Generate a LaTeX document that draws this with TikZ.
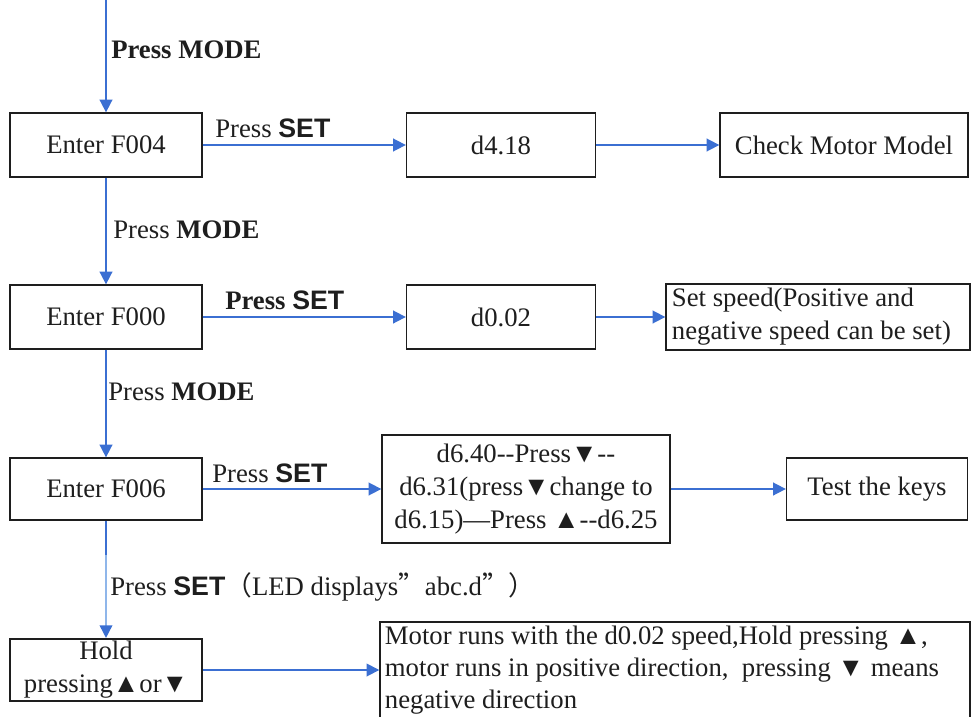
\documentclass[tikz,border=0pt]{standalone}
\usepackage{fontspec}
\setmainfont{Liberation Serif}
\newfontfamily\keyfont{Liberation Sans}
\newfontfamily\cjk{Noto Sans CJK SC}
\usetikzlibrary{arrows.meta,positioning}
\definecolor{flowBlue}{HTML}{3B6FD2}
\definecolor{flowPale}{HTML}{8FB6EA}
\definecolor{boxInk}{HTML}{1E1E1E}
\newcommand{\keySET}{{\keyfont\bfseries SET}}

\begin{document}
\begin{tikzpicture}[x=0.025cm,y=-0.025cm,
   font=\fontsize{19}{23.5}\selectfont,
   box/.style={draw=boxInk,line width=0.9pt,fill=white,inner sep=3pt,
               minimum height=1.6cm,align=center,text=boxInk},
   wbox/.style={box,align=flush left},
   flow/.style={draw=flowBlue,line width=1.2pt,
                -{Triangle[length=9pt,width=9pt,color=flowBlue]}},
   lbl/.style={anchor=west,inner sep=0pt,text=boxInk}]
  \useasboundingbox (0,0) rectangle (971,716);
  % left column
  \node[box,minimum width=4.8cm] (f4) at (106,145) {Enter F004};
  \node[box,minimum width=4.8cm] (f0) at (106,317) {Enter F000};
  \node[box,minimum width=4.8cm,minimum height=1.55cm] (f6) at (106,489) {Enter F006};
  \node[box,minimum width=4.8cm,minimum height=1.55cm,line width=1.5pt,
        inner sep=1pt] (hold) at (106,670) {Hold\\pressing▲or▼};
  % middle column
  \node[box,minimum width=4.725cm] (d4) at (501,145) {d4.18};
  \node[box,minimum width=4.725cm] (d0) at (501,317) {d0.02};
  \node[box,minimum width=7.2cm,minimum height=2.7cm] (d6) at (526,489)
       {d6.40-{}-Press▼-{}-\\d6.31(press▼change to\\d6.15)—Press ▲-{}-d6.25};
  % right column
  \node[box,minimum width=6.2cm] (chk) at (844,145) {Check Motor Model};
  \node[wbox,minimum width=7.6cm,text width=7.3cm] (spd) at (818,317)
       {Set speed(Positive and\\negative speed can be set)};
  \node[box,minimum width=4.525cm,minimum height=1.55cm] (keys) at (877,489) {Test the keys};
  \node[wbox,minimum width=14.75cm,minimum height=2.1cm,text width=14.5cm,
        font=\fontsize{19}{22.5}\selectfont] (run) at (675,670)
       {Motor runs with the d0.02 speed,Hold pressing ▲,\\
        motor runs in positive direction,\ \ pressing ▼ means\\
        negative direction};
  % connectors
  \coordinate (top) at (106,0);
  \coordinate (mid) at (106,555);
  \draw[flow] (top) -- (f4.north);
  \draw[flow] (f4.south) -- (f0.north);
  \draw[flow] (f0.south) -- (f6.north);
  \draw[flowBlue,line width=1.2pt] (f6.south) -- (mid);
  \draw[flow,draw=flowPale] (mid) -- (hold.north);
  \draw[flow] (f4.east) -- (d4.west);
  \draw[flow] (d4.east) -- (chk.west);
  \draw[flow] (f0.east) -- (d0.west);
  \draw[flow] (d0.east) -- (spd.west);
  \draw[flow] (f6.east) -- (d6.west);
  \draw[flow] (d6.east) -- (keys.west);
  \draw[flow] (hold.east) -- (run.west);
  % labels
  \node[lbl] (m1) at (111,50) {\textbf{Press MODE}};
  \node[lbl] (m2) at (113,230) {Press \textbf{MODE}};
  \node[lbl] (m3) at (108,392) {Press \textbf{MODE}};
  \node[lbl] (s1) at (215,128) {Press \keySET};
  \node[lbl] (s2) at (225,300) {\textbf{Press} \keySET};
  \node[lbl] (s3) at (212,473) {Press \keySET};
  \node[lbl] (s4) at (110,587) {Press \keySET{\cjk （}LED displays{\cjk ”}abc.d{\cjk ”）}};
\end{tikzpicture}
\end{document}
